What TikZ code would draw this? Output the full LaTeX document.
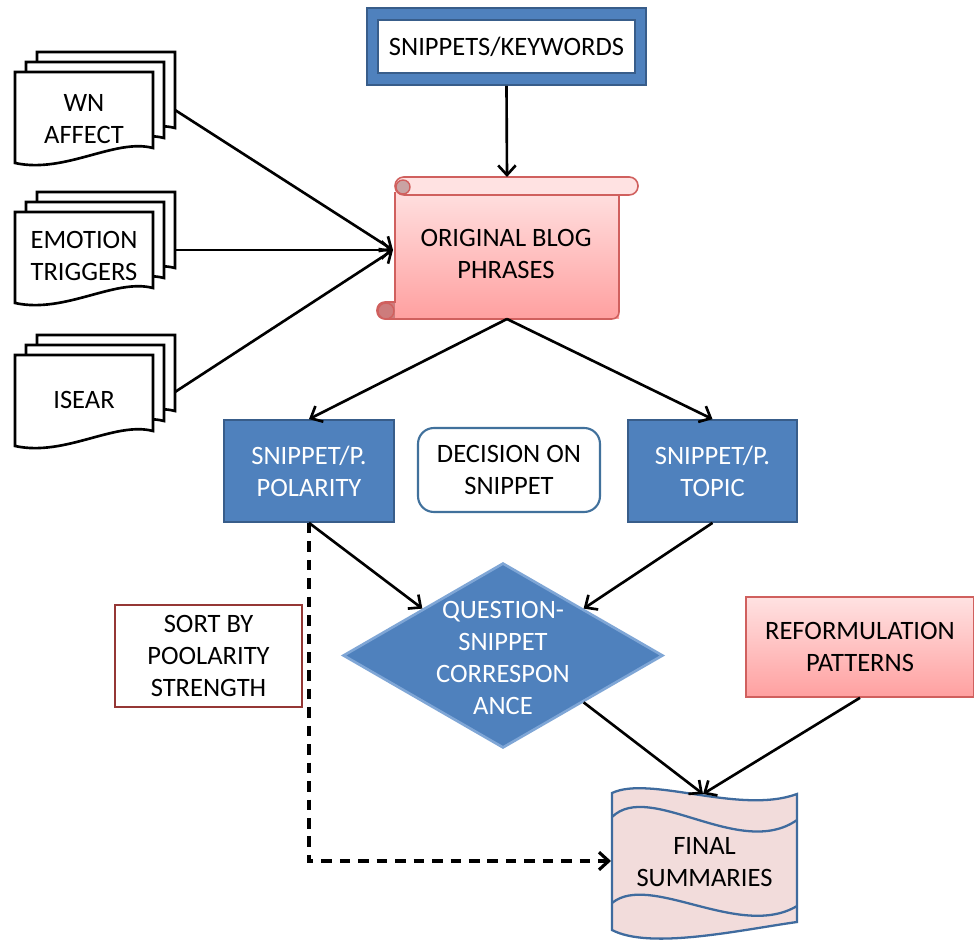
\documentclass[tikz,border=0pt]{standalone}
\usepackage{fontspec}
\setmainfont{Carlito}
\usetikzlibrary{arrows.meta,shapes.geometric}
\definecolor{boxblue}{HTML}{4F81BD}
\definecolor{edgeblue}{HTML}{385D8A}
\definecolor{lightedge}{HTML}{7FA6D6}
\definecolor{roundedge}{HTML}{41719C}
\definecolor{pinktop}{HTML}{FFE2E2}
\definecolor{pinkbot}{HTML}{FFA0A0}
\definecolor{pinkedge}{HTML}{D0605E}
\definecolor{curllight}{HTML}{C9A3A3}
\definecolor{curldark}{HTML}{CD7C7C}
\definecolor{sortedge}{HTML}{953735}
\definecolor{tapefill}{HTML}{F2DCDB}
\definecolor{tapeedge}{HTML}{3F6B9E}

\begin{document}
\begin{tikzpicture}[x=0.02cm, y=-0.02cm,
  font=\fontsize{15.1}{18.1}\selectfont,
  every node/.style={align=center, inner sep=0pt},
  arr/.style={line width=1.5pt, -{Straight Barb[length=5.5pt,width=10pt]}},
  dasharr/.style={line width=1.8pt, dash pattern=on 6pt off 4.5pt,
    -{Straight Barb[length=5.5pt,width=10pt]}},
  bluebox/.style={rectangle, fill=boxblue, draw=edgeblue, line width=1pt,
    text=white, minimum height=2.04cm},
  pinkbox/.style={rectangle, top color=pinktop, bottom color=pinkbot,
    draw=pinkedge, line width=0.9pt},
  docsheet/.pic={
    \draw[fill=white, line width=1.5pt, line join=miter]
      (0,0) -- (138,0) -- (138,76) .. controls (100,66) and (50,102) .. (0,91) -- cycle;
  }
]
\useasboundingbox (0,0) rectangle (974,945);
\fill[white] (0,0) rectangle (974,945);

% stacked document sources
\foreach \y in {72,212,355} {
  \pic at (37,\y-20) {docsheet};
  \pic at (26,\y-10) {docsheet};
  \pic at (15,\y) {docsheet};
}
\node (wn) at (84,119) {WN\\AFFECT};
\node (emo) at (84,256) {EMOTION\\TRIGGERS};
\node (isear) at (84,400) {ISEAR};
\coordinate (wnout) at (175,110);
\coordinate (emoout) at (175,250);
\coordinate (isout) at (175,392);

% keywords box with thick blue frame
\node[draw=edgeblue, fill=boxblue, line width=1pt,
  minimum width=5.58cm, minimum height=1.54cm] (kw) at (506.5,46.5) {};
\node[draw=edgeblue, fill=white, line width=0.8pt,
  minimum width=5.14cm, minimum height=1.06cm] (kwin) at (506.5,46.5) {SNIPPETS/KEYWORDS};

% scroll: original blog phrases
\draw[pinkedge, fill=curldark, line width=0.9pt, rounded corners=4.5pt]
  (377,302) rectangle (404,319);
\shade[top color=pinktop, bottom color=pinkbot]
  (395,186) -- (619,186) -- (619,319) -- (395,319) -- cycle;
\draw[pinkedge, line width=0.9pt, rounded corners=4pt]
  (619,190) -- (619,319) -- (386,319);
\draw[pinkedge, line width=0.9pt] (395,192) -- (395,303);
\draw[pinkedge, fill=pinktop, line width=0.9pt, rounded corners=5pt]
  (395,177) rectangle (638,195);
\draw[pinkedge, fill=curllight, line width=0.8pt] (403,187) circle (0.14cm);
\draw[pinkedge, fill=curldark, line width=0.8pt] (386,311) circle (0.16cm);
\node (blog) at (506,254) {ORIGINAL BLOG\\PHRASES};
\coordinate (blogtop) at (507,177);
\coordinate (blogbot) at (507,319);
\coordinate (blogin) at (393,250);

% middle row
\node[bluebox, minimum width=3.4cm] (pol) at (309,471) {SNIPPET/P.\\POLARITY};
\node[bluebox, minimum width=3.38cm] (topic) at (712.5,471) {SNIPPET/P.\\TOPIC};
\node[draw=roundedge, fill=white, line width=1.2pt, rounded corners=9pt,
  minimum width=3.64cm, minimum height=1.68cm] (dec) at (509,470) {DECISION ON\\SNIPPET};

% decision diamond
\node[diamond, fill=boxblue, draw=lightedge, line width=1.5pt,
  minimum width=6.4cm, minimum height=3.7cm] (qs) at (503,655.5) {};
\node[text=white] (qstext) at (503,658) {QUESTION-\\SNIPPET\\CORRESPON\\ANCE};

% side boxes
\node[draw=sortedge, line width=1.2pt, minimum width=3.74cm, minimum height=2.04cm]
  (sort) at (208.5,656) {SORT BY\\POOLARITY\\STRENGTH};
\node[pinkbox, minimum width=4.56cm, minimum height=2cm] (ref) at (860,647)
  {REFORMULATION\\PATTERNS};

% final summaries (punched tape)
\draw[tapeedge, fill=tapefill, line width=1.3pt]
  (612,793) .. controls (650,775) and (740,815) .. (797,794) -- (797,922)
  .. controls (740,930) and (650,950) .. (612,930) -- cycle;
\draw[tapeedge, line width=1.3pt] (612,817) .. controls (650,780) and (740,860) .. (797,820);
\draw[tapeedge, line width=1.3pt] (612,903) .. controls (650,872) and (740,940) .. (797,906);
\node (fs) at (704.5,862) {FINAL\\SUMMARIES};
\coordinate (fstop) at (703,794);
\coordinate (fsleft) at (611,861);

% connectors
\draw[arr] (kw.south) -- (blogtop);
\draw[arr] (wnout) -- (blogin);
\draw[arr] (emoout) -- (blogin);
\draw[arr] (isout) -- (blogin);
\draw[arr] (blogbot) -- (pol.north);
\draw[arr] (blogbot) -- (topic.north);
\draw[arr] (pol.south) -- (qs.north west);
\draw[arr] (topic.south) -- (qs.north east);
\draw[arr] (qs.south east) -- (fstop);
\draw[arr] (ref.south) -- (fstop);
\draw[dasharr] (pol.south) |- (fsleft);
\end{tikzpicture}
\end{document}
